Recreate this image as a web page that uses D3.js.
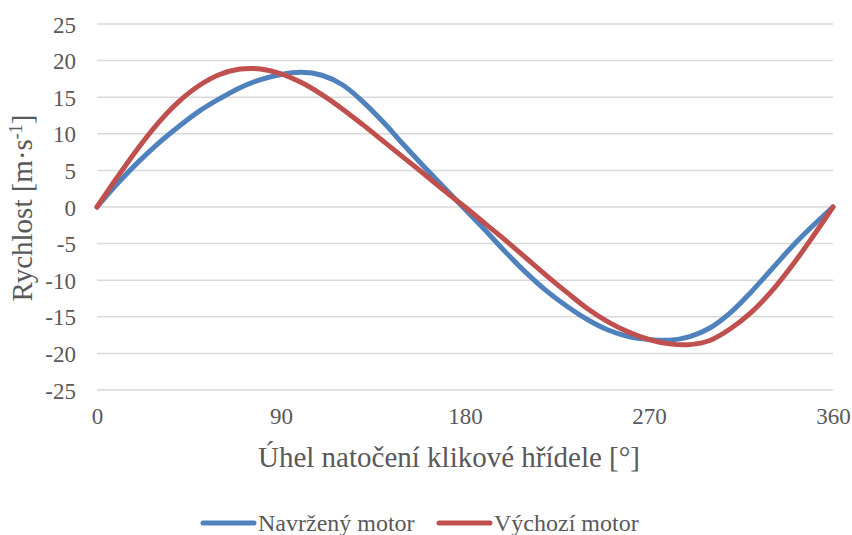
<!DOCTYPE html>
<html>
<head>
<meta charset="utf-8">
<script src="https://cdn.jsdelivr.net/npm/d3@7"></script>
<style>
  body { margin: 0; background: #fff; }
  svg { display: block; }
  text { font-family: "Liberation Serif", "Times New Roman", serif; fill: #595959; }
</style>
</head>
<body>
<svg id="chart" width="852" height="535"></svg>
<script>
"use strict"

// crank angle [deg]
let angles = [0, 10, 20, 30, 40, 50, 60, 70, 80, 90, 100, 110, 120, 130, 140, 150, 160, 170, 180,
              190, 200, 210, 220, 230, 240, 250, 260, 270, 280, 290, 300, 310, 320, 330, 340, 350, 360];

// Navržený motor (blue)
let navrzeny = [0, 3.2, 6.1, 8.7, 11.0, 13.1, 14.8, 16.3, 17.4, 18.1, 18.4, 18.0, 16.7, 14.4, 11.6, 8.5, 5.5, 2.6, -0.3,
                -3.2, -6.2, -9.0, -11.5, -13.6, -15.4, -16.8, -17.7, -18.1, -18.2, -17.7, -16.5, -14.4, -11.6, -8.5, -5.4, -2.6, 0];

// Výchozí motor (red)
let vychozi = [0, 4.1, 8.0, 11.5, 14.4, 16.6, 18.1, 18.85, 18.85, 18.2, 17.0, 15.35, 13.4, 11.25, 9.0, 6.75, 4.5, 2.2, 0,
               -2.3, -4.6, -7.0, -9.4, -11.7, -13.9, -15.7, -17.1, -18.1, -18.7, -18.8, -18.2, -16.6, -14.4, -11.5, -8.0, -4.1, 0];

let xTicks = [0, 90, 180, 270, 360];
let yTicks = [-25, -20, -15, -10, -5, 0, 5, 10, 15, 20, 25];

let seriesNames = ["Navržený motor", "Výchozí motor"];
let seriesColors = ["#4F81BD", "#C0504D"];

let svg = d3.select("#chart");

// plot area
let plotLeft = 97, plotRight = 833, plotTop = 24, plotBottom = 390;

let x = d3.scaleLinear().domain([0, 360]).range([plotLeft, plotRight]);
let y = d3.scaleLinear().domain([-25, 25]).range([plotBottom, plotTop]);

/* horizontal gridlines */
svg.append("g")
    .selectAll("line")
    .data(yTicks)
    .join("line")
    .attr("x1", plotLeft)
    .attr("x2", plotRight)
    .attr("y1", d => y(d))
    .attr("y2", d => y(d))
    .attr("stroke", "#d9d9d9")
    .attr("stroke-width", 1.5);

/* y axis labels (plain hyphen for minus, like the original) */
let yAxis = svg.append("g")
    .attr("transform", "translate(" + (plotLeft - 21) + ",0)")
    .call(d3.axisLeft(y).tickValues(yTicks).tickFormat(d => String(d)).tickSize(0).tickPadding(0));
yAxis.select(".domain").remove();
yAxis.selectAll("text")
    .attr("font-size", 23)
    .attr("dy", "0.35em")
    .style("font-family", "Liberation Serif")
    .style("fill", "#595959");

/* x axis labels */
let xAxis = svg.append("g")
    .attr("transform", "translate(0," + (plotBottom + 18) + ")")
    .call(d3.axisBottom(x).tickValues(xTicks).tickFormat(d => String(d)).tickSize(0).tickPadding(0));
xAxis.select(".domain").remove();
xAxis.selectAll("text")
    .attr("font-size", 23)
    .style("font-family", "Liberation Serif")
    .style("fill", "#595959");

/* lines */
let lineGen = d3.line()
    .x((d, i) => x(angles[i]))
    .y(d => y(d))
    .curve(d3.curveCatmullRom.alpha(0.5));

let allSeries = [navrzeny, vychozi];
allSeries.forEach(function (values, k) {
    svg.append("path")
        .datum(values)
        .attr("d", lineGen)
        .attr("fill", "none")
        .attr("stroke", seriesColors[k])
        .attr("stroke-width", 5)
        .attr("stroke-linecap", "round")
        .attr("stroke-linejoin", "round");
});

/* axis titles */
svg.append("text")
    .attr("x", 449)
    .attr("y", 467)
    .attr("text-anchor", "middle")
    .attr("font-size", 29)
    .text("Úhel natočení klikové hřídele [°]");

let yTitle = svg.append("text")
    .attr("transform", "translate(32,208) rotate(-90)")
    .attr("text-anchor", "middle")
    .attr("font-size", 29);
yTitle.append("tspan").text("Rychlost [m·s");
yTitle.append("tspan").attr("baseline-shift", "super").attr("font-size", 18).text("-1");
yTitle.append("tspan").text("]");

/* legend */
let legendX = [201, 437];
seriesNames.forEach(function (name, k) {
    let g = svg.append("g").attr("transform", "translate(" + legendX[k] + ",523)");
    g.append("line")
        .attr("x1", 2).attr("x2", 53)
        .attr("y1", 0).attr("y2", 0)
        .attr("stroke", seriesColors[k])
        .attr("stroke-width", 5)
        .attr("stroke-linecap", "round");
    g.append("text")
        .attr("x", 57)
        .attr("y", 8)
        .attr("font-size", 24)
        .text(name);
});
</script>
</body>
</html>
